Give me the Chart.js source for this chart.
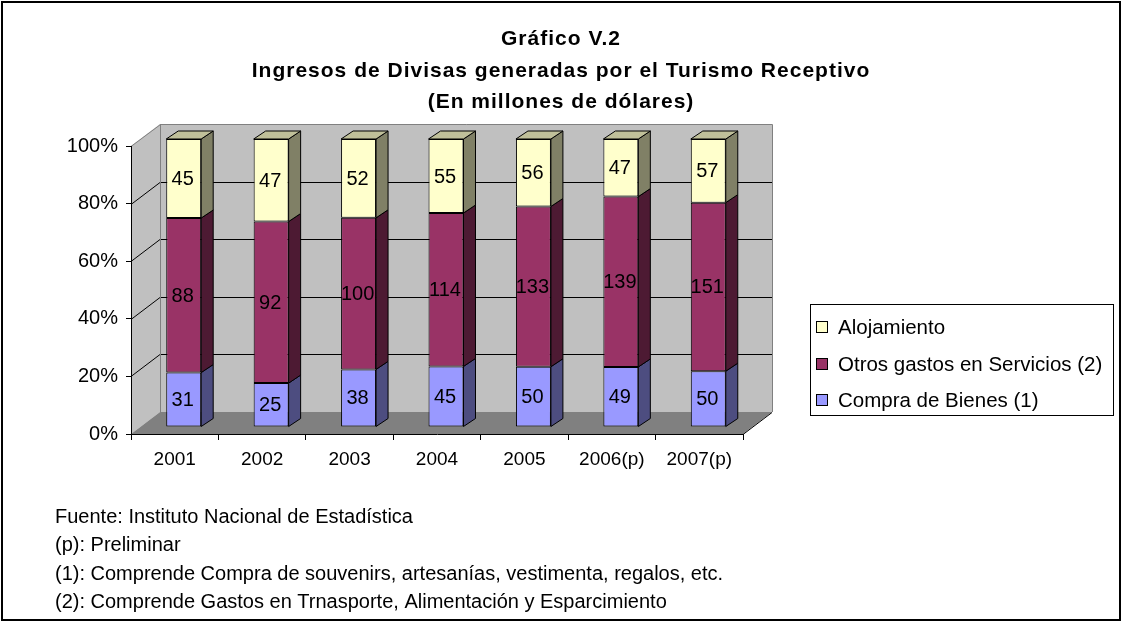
<!DOCTYPE html>
<html><head><meta charset="utf-8">
<script src="https://cdn.jsdelivr.net/npm/chart.js@4"></script>
<style>html,body{margin:0;padding:0;background:#fff}canvas{display:block}</style>
</head><body>
<canvas id="c" width="1122" height="622"></canvas>
<script>
const categories = ['2001','2002','2003','2004','2005','2006(p)','2007(p)'];
const compraBienes = [31,25,38,45,50,49,50];
const otrosGastos = [88,92,100,114,133,139,151];
const alojamiento = [45,47,52,55,56,47,57];
const seriesNames = ['Compra de Bienes (1)','Otros gastos en Servicios (2)','Alojamiento'];
const yTicks = [0,20,40,60,80,100];
const titleLines = ['Gráfico V.2','Ingresos de Divisas generadas por el Turismo Receptivo','(En millones de dólares)'];
const notes = ['Fuente: Instituto Nacional de Estadística','(p): Preliminar','(1): Comprende Compra de souvenirs, artesanías, vestimenta, regalos, etc.','(2): Comprende Gastos en Trnasporte, Alimentación y Esparcimiento'];

const FONT = "'Liberation Sans', Arial, sans-serif";
Chart.defaults.font.family = FONT;
Chart.defaults.color = '#000';

const totals = categories.map((_, i) => compraBienes[i] + otrosGastos[i] + alojamiento[i]);
const pct = arr => arr.map((v, i) => v / totals[i] * 100);

const rawSeries = [compraBienes, otrosGastos, alojamiento];
const fronts = ['#9999FF', '#993366', '#FFFFCC'];
const sides = ['#4D4D80', '#4D1A33', '#808066'];
const topColor = '#C0C09A';

const D = {x: 29, y: -22};  // wall depth
const B = {x: 9, y: -7};    // bar plane offset
const S = {x: 12, y: -8};   // bar depth

function poly(ctx, pts, fill, stroke) {
  ctx.beginPath();
  ctx.moveTo(pts[0][0], pts[0][1]);
  for (let i = 1; i < pts.length; i++) ctx.lineTo(pts[i][0], pts[i][1]);
  ctx.closePath();
  if (fill) { ctx.fillStyle = fill; ctx.fill(); }
  if (stroke) { ctx.strokeStyle = stroke; ctx.lineWidth = 1; ctx.stroke(); }
}

const threeD = {
  id: 'threeD',
  beforeDraw(chart) {
    const ctx = chart.ctx, a = chart.chartArea, ys = chart.scales.y;
    ctx.save();
    ctx.fillStyle = '#fff';
    ctx.fillRect(0, 0, chart.width, chart.height);
    ctx.strokeStyle = '#000'; ctx.lineWidth = 2;
    ctx.strokeRect(2, 2, chart.width - 4, chart.height - 4);
    const L = a.left, R = a.right, T = a.top, Bt = a.bottom;
    poly(ctx, [[L, T], [L + D.x, T + D.y], [L + D.x, Bt + D.y], [L, Bt]], '#C0C0C0');
    poly(ctx, [[L + D.x, T + D.y], [R + D.x, T + D.y], [R + D.x, Bt + D.y], [L + D.x, Bt + D.y]], '#C0C0C0');
    poly(ctx, [[L, Bt], [L + D.x, Bt + D.y], [R + D.x, Bt + D.y], [R, Bt]], '#808080');
    ctx.lineWidth = 1;
    ctx.strokeStyle = '#000';
    yTicks.forEach(v => {
      if (v <= 0 || v >= 100) return;
      const y = Math.round(ys.getPixelForValue(v)) + 0.5;
      ctx.beginPath();
      ctx.moveTo(L, y); ctx.lineTo(L + D.x, y + D.y); ctx.lineTo(R + D.x, y + D.y);
      ctx.stroke();
    });
    ctx.strokeStyle = '#808080';
    ctx.beginPath();
    ctx.moveTo(L, T + 0.5); ctx.lineTo(L + D.x + 0.5, T + D.y + 0.5); ctx.lineTo(R + D.x + 0.5, T + D.y + 0.5); ctx.lineTo(R + D.x + 0.5, Bt + D.y);
    ctx.moveTo(L + D.x + 0.5, T + D.y); ctx.lineTo(L + D.x + 0.5, Bt + D.y);
    ctx.stroke();
    ctx.strokeStyle = '#000';
    ctx.beginPath();
    ctx.moveTo(R, Bt + 0.5); ctx.lineTo(R + D.x, Bt + D.y + 0.5);
    ctx.stroke();
    ctx.restore();
  },
  beforeDatasetsDraw(chart) {
    chart.ctx.save();
    chart.ctx.translate(B.x, B.y);
  },
  afterDatasetsDraw(chart) {
    const ctx = chart.ctx;
    const n = chart.data.datasets.length;
    chart.data.datasets.forEach((ds, di) => {
      const meta = chart.getDatasetMeta(di);
      meta.data.forEach(el => {
        const p = el.getProps(['x', 'y', 'base', 'width'], true);
        const l = p.x - p.width / 2, r = p.x + p.width / 2, t = Math.min(p.y, p.base), b = Math.max(p.y, p.base);
        poly(ctx, [[r, t], [r + S.x, t + S.y], [r + S.x, b + S.y], [r, b]], sides[di], '#000');
        if (di === n - 1) {
          poly(ctx, [[l, t], [l + S.x, t + S.y], [r + S.x, t + S.y], [r, t]], topColor, '#000');
        }
      });
    });
    ctx.fillStyle = '#000';
    ctx.font = '20px ' + FONT;
    ctx.textAlign = 'center';
    ctx.textBaseline = 'middle';
    chart.data.datasets.forEach((ds, di) => {
      const meta = chart.getDatasetMeta(di);
      meta.data.forEach((el, i) => {
        const p = el.getProps(['x', 'y', 'base'], true);
        ctx.fillText(String(ds.rawValues[i]), p.x - 1, (p.y + p.base) / 2 + 1);
      });
    });
    ctx.restore();
  },
  afterDraw(chart) {
    const ctx = chart.ctx;
    ctx.save();
    ctx.fillStyle = '#000';
    ctx.textAlign = 'center';
    ctx.textBaseline = 'middle';
    ctx.font = 'bold 21px ' + FONT;
    if ('letterSpacing' in ctx) ctx.letterSpacing = '1px';
    const ty = [39, 71, 102];
    titleLines.forEach((t, i) => ctx.fillText(t, 561, ty[i]));
    if ('letterSpacing' in ctx) ctx.letterSpacing = '0px';
    // legend
    ctx.lineWidth = 1;
    ctx.strokeStyle = '#000';
    ctx.strokeRect(810.5, 304.5, 303, 111);
    ctx.font = '20.5px ' + FONT;
    ctx.textAlign = 'left';
    const ly = [327, 364, 400];
    const ds = chart.data.datasets;
    for (let k = 0; k < ds.length; k++) {
      const di = ds.length - 1 - k;
      ctx.fillStyle = ds[di].backgroundColor;
      ctx.fillRect(817, ly[k] - 5, 10, 10);
      ctx.strokeRect(816.5, ly[k] - 5.5, 11, 11);
      ctx.fillStyle = '#000';
      ctx.fillText(ds[di].label, 838, ly[k] + 1);
    }
    // notes
    ctx.font = '20px ' + FONT;
    const ny = [517, 545, 574, 602];
    notes.forEach((t, i) => ctx.fillText(t, 55, ny[i]));
    ctx.restore();
  }
};

const datasets = rawSeries.map((arr, i) => ({
  label: seriesNames[i],
  data: pct(arr),
  rawValues: arr,
  backgroundColor: fronts[i],
  borderColor: '#000',
  borderWidth: 1,
  borderSkipped: false,
  barPercentage: 0.4,
  categoryPercentage: 1.0,
  clip: false
}));

new Chart(document.getElementById('c'), {
  type: 'bar',
  data: { labels: categories, datasets },
  options: {
    responsive: false,
    animation: false,
    devicePixelRatio: 1,
    layout: { padding: { left: 41, right: 379, top: 146, bottom: 148 } },
    plugins: { legend: { display: false }, tooltip: { enabled: false }, title: { display: false } },
    scales: {
      x: {
        stacked: true, offset: true,
        afterFit(s) { s.height = 40; },
        grid: { offset: true, drawOnChartArea: false, tickLength: 6, color: '#000' },
        border: { color: '#000' },
        ticks: { color: '#000', font: { size: 19 }, padding: 8, maxRotation: 0, autoSkip: false }
      },
      y: {
        stacked: true, min: 0, max: 100,
        afterFit(s) { s.width = 90; },
        afterBuildTicks(s) { s.ticks = yTicks.map(v => ({ value: v })); },
        grid: { drawOnChartArea: false, tickLength: 5, color: '#000' },
        border: { color: '#000' },
        ticks: { color: '#000', font: { size: 20 }, padding: 8, callback: v => v + '%' }
      }
    }
  },
  plugins: [threeD]
});
</script>
</body></html>
